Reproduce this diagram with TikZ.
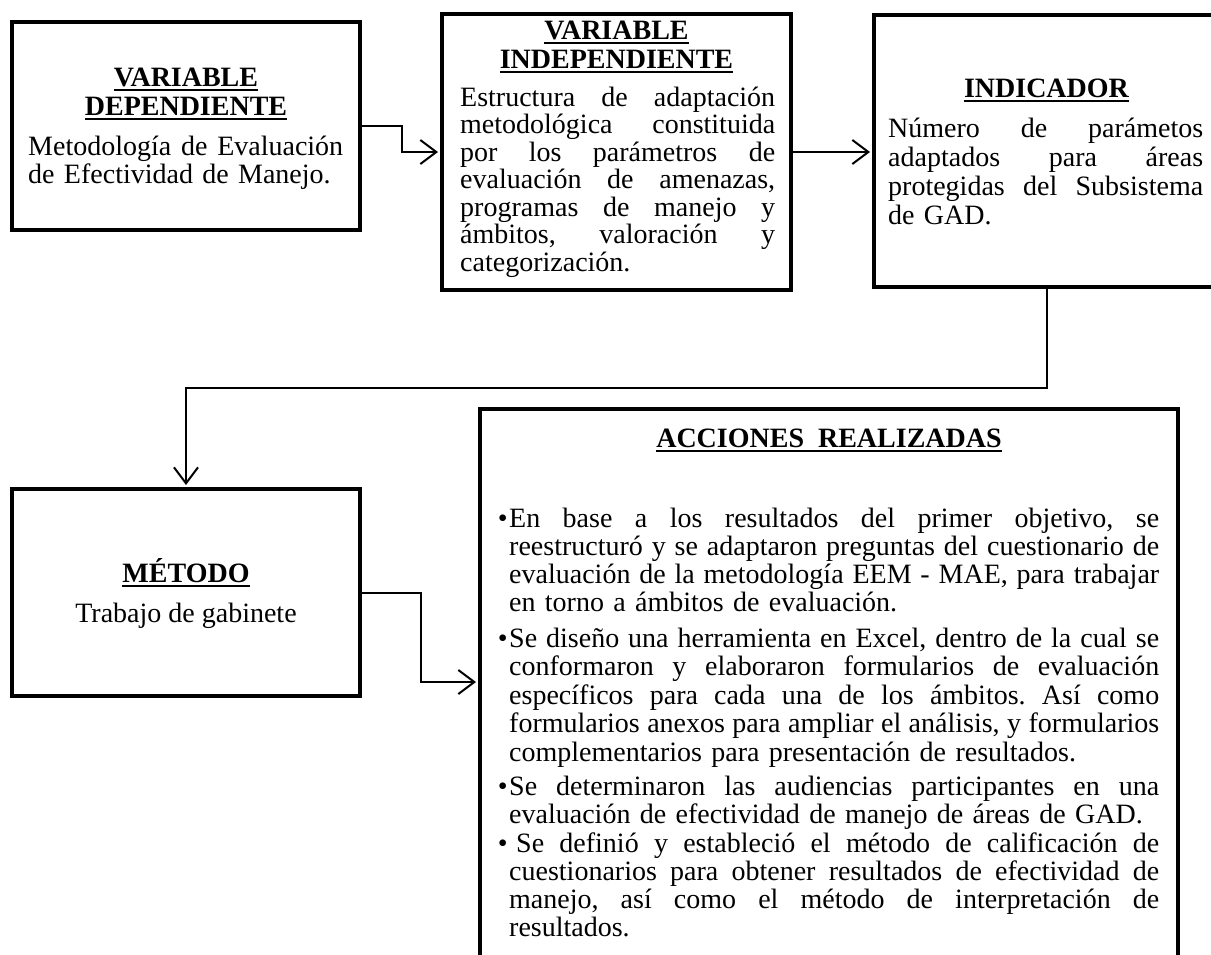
\documentclass[tikz,border=0pt]{standalone}
\usepackage{fontspec}
\setmainfont{Liberation Serif}
\usetikzlibrary{arrows.meta}
\lineskiplimit=-100pt
\lineskip=0pt
\frenchspacing
\newcommand\ulx[1]{\setbox0=\hbox{#1}\rlap{\rule[-4.5pt]{\wd0}{2pt}}\box0}
\newcommand\J[2]{\leavevmode\hbox to #1{\spaceskip=0.25em plus 1fil minus 0.08em\relax #2}}
\newcommand\bul{\llap{\textbullet\kern1.5pt}}
\tikzset{
  boxnode/.style={draw, line width=4pt, inner sep=0pt},
  txt/.style={inner sep=0pt, align=left, anchor=base west},
  hd/.style={inner sep=0pt, anchor=base, font=\bfseries\fontsize{28}{28}\selectfont},
  plain/.style={inner sep=0pt, anchor=base, font=\fontsize{28}{28}\selectfont},
  conn/.style={line width=2pt, -{Straight Barb[length=16pt,width=24pt]}, shorten >=2pt},
}
\begin{document}
\begin{tikzpicture}[x=1pt, y=-1pt]
\frenchspacing
\useasboundingbox (0,0) rectangle (1211,954);

% boxes
\node[boxnode, minimum width=348pt, minimum height=208pt] (b1) at (186,126) {};
\node[boxnode, minimum width=349pt, minimum height=276pt] (b2) at (616.5,152) {};
\node[boxnode, minimum width=345pt, minimum height=272pt] (b3) at (1046.5,151) {};
\node[boxnode, minimum width=348pt, minimum height=207pt] (b4) at (186,592.5) {};
\node[boxnode, minimum width=698pt, minimum height=581pt] (b5) at (829,699.5) {};

% box 1
\node[hd] (h1a) at (186,86) {\ulx{VARIABLE}};
\node[hd] (h1b) at (186,115) {\ulx{DEPENDIENTE}};
\node[txt, text width=315pt, font=\fontsize{28}{28}\selectfont] (t1) at (28,155)
  {\J{315pt}{Metodología de Evaluación}\\de Efectividad de Manejo.};

% box 2
\node[hd] (h2a) at (616.5,39) {\ulx{VARIABLE}};
\node[hd] (h2b) at (616.5,68) {\ulx{INDEPENDIENTE}};
\node[txt, text width=315pt, font=\fontsize{28}{27.5}\selectfont] (t2) at (460,106)
  {\J{315pt}{Estructura de adaptación}\\
   \J{315pt}{metodológica constituida}\\
   \J{315pt}{por los parámetros de}\\
   \J{315pt}{evaluación de amenazas,}\\
   \J{315pt}{programas de manejo y}\\
   \J{315pt}{ámbitos, valoración y}\\
   categorización.};

% box 3
\node[hd] (h3) at (1046.5,97) {\ulx{INDICADOR}};
\node[txt, text width=315pt, font=\fontsize{28}{29}\selectfont] (t3) at (888,137)
  {\J{315pt}{Número de parámetos}\\
   \J{315pt}{adaptados para áreas}\\
   \J{315pt}{protegidas del Subsistema}\\
   de GAD.};

% box 4
\node[hd] (h4) at (186,582) {\ulx{MÉTODO}};
\node[plain] (t4) at (186,622) {Trabajo de gabinete};

% box 5
\node[hd] (h5) at (829,447) {\ulx{ACCIONES\hspace{7pt} REALIZADAS}};
\node[txt, text width=650pt, font=\fontsize{28}{28}\selectfont] (p1) at (509,527)
  {\J{650pt}{\bul En base a los resultados del primer objetivo, se}\\
   \J{650pt}{reestructuró y se adaptaron preguntas del cuestionario de}\\
   \J{650pt}{evaluación de la metodología EEM - MAE, para trabajar}\\
   en torno a ámbitos de evaluación.};
\node[txt, text width=650pt, font=\fontsize{28}{28.5}\selectfont] (p2) at (509,647)
  {\J{650pt}{\bul Se diseño una herramienta en Excel, dentro de la cual se}\\
   \J{650pt}{conformaron y elaboraron formularios de evaluación}\\
   \J{650pt}{específicos para cada una de los ámbitos. Así como}\\
   \J{650pt}{formularios anexos para ampliar el análisis, y formularios}\\
   complementarios para presentación de resultados.};
\node[txt, text width=650pt, font=\fontsize{28}{28}\selectfont] (p3) at (509,795)
  {\J{650pt}{\bul Se determinaron las audiencias participantes en una}\\
   evaluación de efectividad de manejo de áreas de GAD.};
\node[txt, text width=650pt, font=\fontsize{28}{28}\selectfont] (p4) at (509,852)
  {\J{650pt}{\bul\hspace{7pt}Se definió y estableció el método de calificación de}\\
   \J{650pt}{cuestionarios para obtener resultados de efectividad de}\\
   \J{650pt}{manejo, así como el método de interpretación de}\\
   resultados.};

% connectors
\coordinate (k1) at (402,0);
\coordinate (k3) at (0,388);
\coordinate (k4) at (421,682);
\draw[conn] (b1.east) -| (k1 |- b2.west) -- (b2.west);
\draw[conn] (b2.east) -- (b2.east -| b3.west);
\draw[conn] (b3.south) |- (b4.north |- k3) -- (b4.north);
\draw[conn] (b4.east) -| (k4) -- (k4 -| b5.west);
\end{tikzpicture}
\end{document}
